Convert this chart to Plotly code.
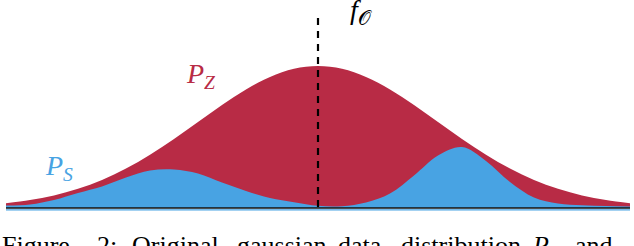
import plotly.graph_objects as go

# x in units of the red curve's sigma (0 = centre line), y in arbitrary height units
red_x = [-2.6, -2.4, -2.2, -2.0, -1.8, -1.6, -1.4, -1.2, -1.0, -0.8, -0.6, -0.4, -0.2, 0.0,
         0.2, 0.4, 0.6, 0.8, 1.0, 1.2, 1.4, 1.6, 1.8, 2.0, 2.2, 2.4, 2.6]
red_y = [4.8, 8.0, 12.6, 19.2, 28.1, 39.5, 53.3, 69.1, 86.1, 103.1, 118.6, 131.1, 139.2, 142.0,
         139.2, 131.1, 118.6, 103.1, 86.1, 69.1, 53.3, 39.5, 28.1, 19.2, 12.6, 8.0, 4.8]

blue_x = red_x
blue_y = [2.5, 3.5, 8.0, 15.0, 21.5, 30.5, 37.5, 38.5, 34.5, 25.5, 17.0, 10.0, 5.8, 2.2,
          1.8, 5.5, 14.5, 32.5, 52.5, 61.0, 47.0, 26.0, 10.5, 4.5, 2.8, 2.0, 1.5]

caption_words = ["Figure", "2:", "Original", "gaussian", "data", "distribution",
                 "<i>P<sub>S</sub></i>", "and"]
caption_px = [0, 95, 130, 235, 336, 399, 530, 573]

RED = "#B82B45"
BLUE = "#48A3E3"

W, H = 634, 246
X0 = 318.0
SX = 120.0
BASE = 208.0


def px2x(px):
    return (px - X0) / SX


def py2y(py):
    return BASE - py


fig = go.Figure()
fig.add_trace(go.Scatter(x=red_x, y=red_y, mode="lines", line=dict(width=0, shape="spline", color=RED),
                         fill="tozeroy", fillcolor=RED, hoverinfo="skip"))
fig.add_trace(go.Scatter(x=blue_x, y=blue_y, mode="lines", line=dict(width=0, shape="spline", color=BLUE),
                         fill="tozeroy", fillcolor=BLUE, hoverinfo="skip"))
# baseline
fig.add_trace(go.Scatter(x=[red_x[0], red_x[-1]], y=[0, 0], mode="lines",
                         line=dict(width=1.6, color="#111111"), hoverinfo="skip"))
fig.add_trace(go.Scatter(x=[red_x[0], red_x[-1]], y=[py2y(209.9), py2y(209.9)], mode="lines",
                         line=dict(width=1.4, color=BLUE), hoverinfo="skip"))
# dashed centre line
fig.add_trace(go.Scatter(x=[0, 0], y=[py2y(18), 0], mode="lines",
                         line=dict(width=2.2, color="black", dash="7px,6px"), hoverinfo="skip"))

ann = []
ann.append(dict(x=px2x(184), y=py2y(95), xref="x", yref="y", xanchor="left", yanchor="bottom",
                text="<i>P<sub>Z</sub></i>", showarrow=False,
                font=dict(family="Liberation Serif", size=28, color=RED)))
ann.append(dict(x=px2x(43), y=py2y(187), xref="x", yref="y", xanchor="left", yanchor="bottom",
                text="<i>P<sub>S</sub></i>", showarrow=False,
                font=dict(family="Liberation Serif", size=28, color=BLUE)))
ann.append(dict(x=px2x(348), y=py2y(31), xref="x", yref="y", xanchor="left", yanchor="bottom",
                text="<i>f</i><sub>𝒪</sub>", showarrow=False,
                font=dict(family="Liberation Serif", size=28, color="black")))
for w, p in zip(caption_words, caption_px):
    ann.append(dict(x=p / W, y=1 - 229 / H, xref="paper", yref="paper", xanchor="left", yanchor="top",
                    text=w, showarrow=False,
                    font=dict(family="Liberation Serif", size=26, color="black")))

fig.update_layout(
    width=W, height=H, margin=dict(l=0, r=0, t=0, b=0),
    paper_bgcolor="white", plot_bgcolor="white", showlegend=False,
    xaxis=dict(range=[px2x(0), px2x(W)], visible=False, fixedrange=True),
    yaxis=dict(range=[py2y(H), py2y(0)], visible=False, fixedrange=True),
    annotations=ann,
)
fig.write_html("out.html", config={"displayModeBar": False},
               post_script="document.body.style.margin='0px';document.body.style.padding='0px';document.body.style.overflow='hidden';")
